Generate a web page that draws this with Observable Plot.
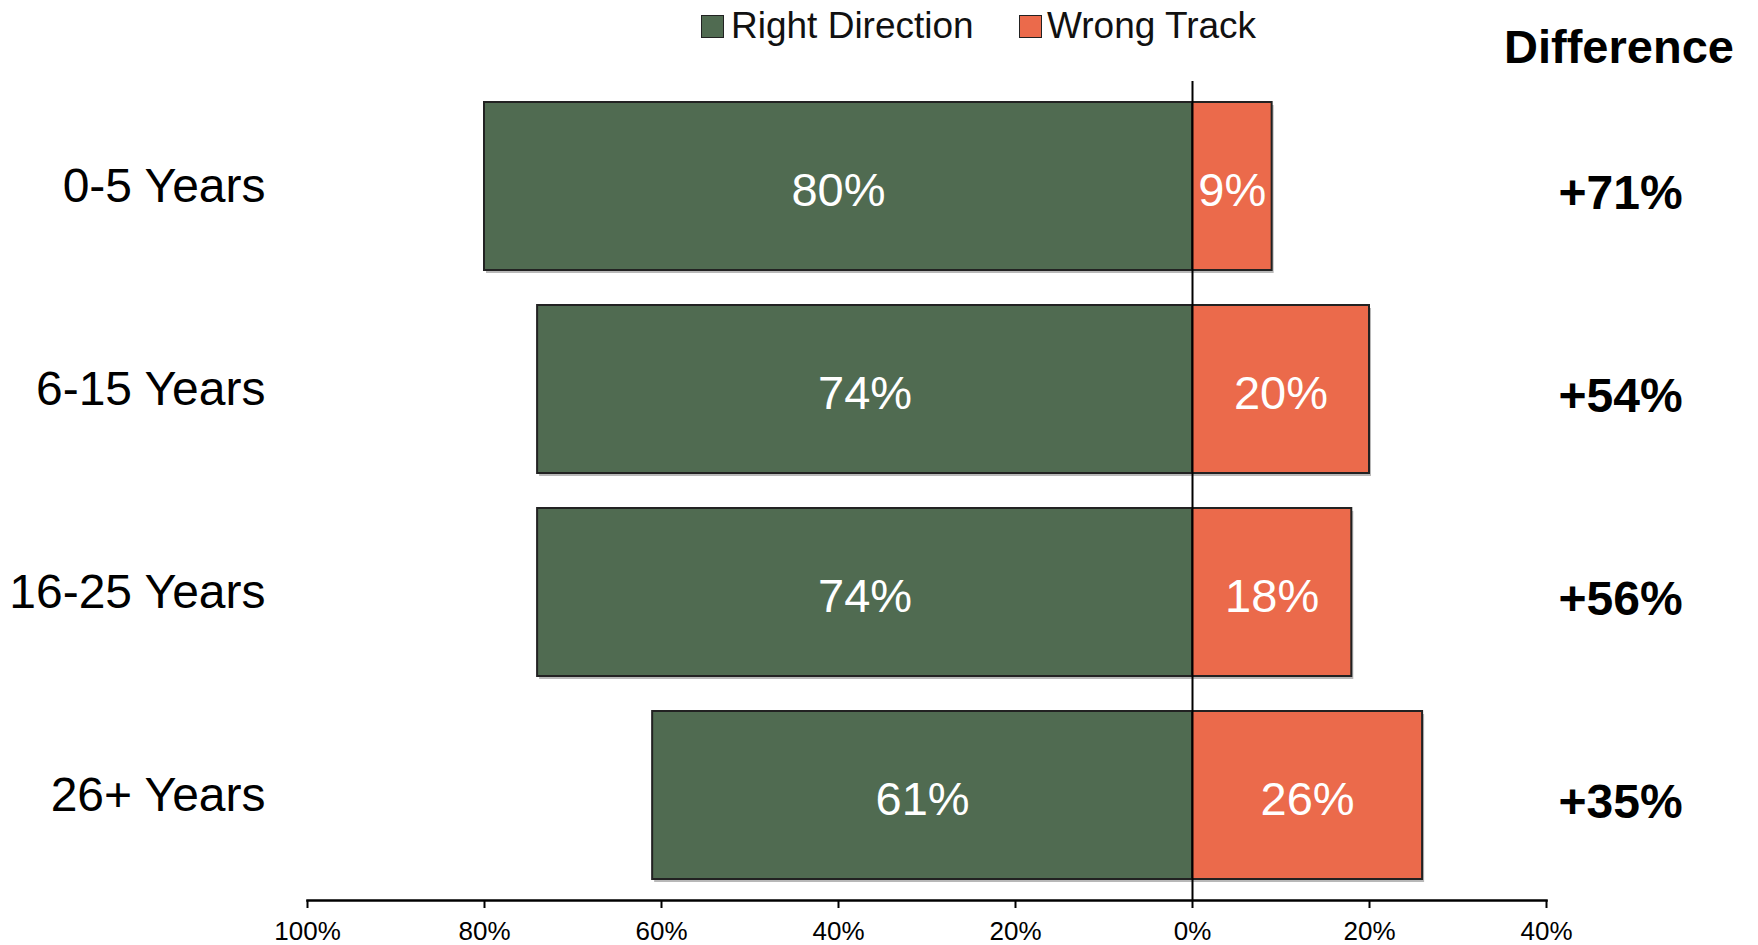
<!DOCTYPE html>
<html>
<head>
<meta charset="utf-8">
<script src="https://cdn.jsdelivr.net/npm/d3@7"></script>
<script src="https://cdn.jsdelivr.net/npm/@observablehq/plot@0.6"></script>
<style>
  body { margin: 0; background: white; font-family: "Liberation Sans", Arial, sans-serif; }
  #wrap { position: relative; width: 1758px; height: 945px; }
  #header { position: absolute; left: 0; top: 0; width: 1758px; height: 60px; z-index: 2; }
  .item { position: absolute; top: 7px; font-size: 37px; line-height: 1; color: #111; white-space: nowrap; }
  .sw { position: absolute; top: 15px; width: 21px; height: 21px; border: 1.5px solid #222; }
  #diff { position: absolute; left: 1469px; width: 300px; top: 23px; text-align: center; font-size: 47px; font-weight: bold; line-height: 1; }
  #chart { position: absolute; left: 0; top: 60px; }
  #chart svg { background: transparent; }
</style>
</head>
<body>
<div id="wrap">
  <div id="header"></div>
  <div id="chart"></div>
</div>
<script>
const categories = ["0-5 Years", "6-15 Years", "16-25 Years", "26+ Years"];
const rightDirection = [80, 74, 74, 61];
const wrongTrack = [9, 20, 18, 26];
const difference = ["+71%", "+54%", "+56%", "+35%"];
const xTicks = [-100, -80, -60, -40, -20, 0, 20, 40];
const seriesNames = ["Right Direction", "Wrong Track"];
const seriesColors = ["#506b51", "#eb6a4b"];
const headerTitle = "Difference";

// header (legend + column title)
const header = document.getElementById("header");
const legendPos = [{sw: 701, tx: 731}, {sw: 1019, tx: 1047}];
seriesNames.forEach((name, i) => {
  const sw = document.createElement("div");
  sw.className = "sw";
  sw.style.left = legendPos[i].sw + "px";
  sw.style.background = seriesColors[i];
  header.appendChild(sw);
  const t = document.createElement("div");
  t.className = "item";
  t.style.left = legendPos[i].tx + "px";
  t.textContent = name;
  header.appendChild(t);
});
const d = document.createElement("div");
d.id = "diff";
d.textContent = headerTitle;
header.appendChild(d);

const rows = [];
categories.forEach((c, i) => {
  rows.push({cat: c, series: seriesNames[0], x1: -rightDirection[i], x2: 0, label: rightDirection[i] + "%"});
  rows.push({cat: c, series: seriesNames[1], x1: 0, x2: wrongTrack[i], label: wrongTrack[i] + "%"});
});
const diffRows = categories.map((c, i) => ({cat: c, text: difference[i]}));

const chart = Plot.plot({
  width: 1758,
  height: 885,
  marginLeft: 307,
  marginRight: 212,
  marginTop: 21,
  marginBottom: 45,
  style: {fontFamily: '"Liberation Sans", Arial, sans-serif', background: "transparent", color: "black"},
  x: {domain: [-100, 40]},
  y: {domain: categories, paddingInner: 0.17, paddingOuter: 0.095},
  color: {domain: seriesNames, range: seriesColors},
  marks: [
    Plot.barX(rows, {x1: "x1", x2: "x2", y: "cat", fill: "#9a9a9a", fillOpacity: 0.7, dx: 2, dy: 3}),
    Plot.barX(rows, {x1: "x1", x2: "x2", y: "cat", fill: "series", stroke: "#222", strokeWidth: 2}),
    Plot.text(rows, {x: r => (r.x1 + r.x2) / 2, y: "cat", text: "label", fill: "white", fontSize: 47, dy: 4}),
    Plot.text(diffRows, {x: 40, y: "cat", text: "text", dx: 74, dy: 7, fontSize: 48, fontWeight: "bold", fill: "black"}),
    Plot.ruleX([0], {stroke: "black", strokeWidth: 2}),
    Plot.axisX({ticks: xTicks, tickFormat: v => Math.abs(v) + "%", tickSize: 8, tickPadding: 13, fontSize: 26, label: null, strokeWidth: 2}),
    Plot.frame({anchor: "bottom", stroke: "black", strokeWidth: 2.5}),
    Plot.axisY({tickSize: 0, tickPadding: 42, fontSize: 48, label: null})
  ]
});
document.getElementById("chart").appendChild(chart);
</script>
</body>
</html>
